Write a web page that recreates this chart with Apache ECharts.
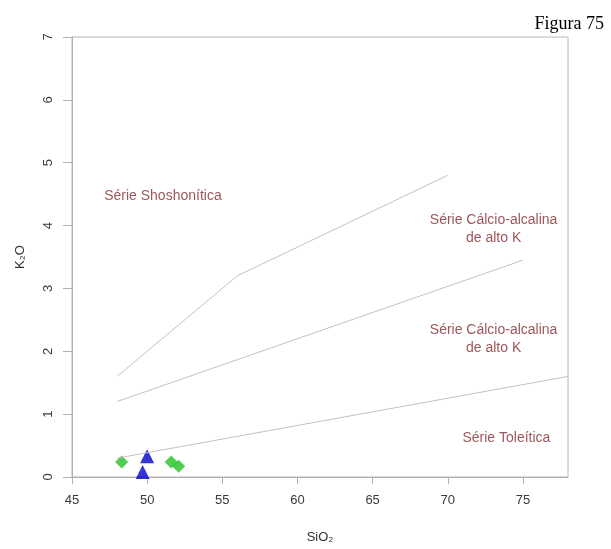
<!DOCTYPE html>
<html>
<head>
<meta charset="utf-8">
<script src="https://cdn.jsdelivr.net/npm/echarts@6/dist/echarts.min.js"></script>
<style>
  html, body { margin: 0; padding: 0; background: #fff; }
  #chart { width: 611px; height: 549px; }
</style>
</head>
<body>
<div id="chart"></div>
<script>
// eixos
var siO2Ticks = [45, 50, 55, 60, 65, 70, 75];
var k2oTicks = [0, 1, 2, 3, 4, 5, 6, 7];

// limites de Peccerillo & Taylor (SiO2, K2O)
var shoshLine = [[48, 1.6], [56, 3.2], [70, 4.8]];
var altoKLine = [[48, 1.2], [75, 3.45]];
var tholLine = [[48, 0.3], [78, 1.6]];

// amostras
var greenSamples = [[48.3, 0.24], [51.6, 0.24], [52.1, 0.17]];
var blueSamples = [[50.0, 0.33], [49.7, 0.08]];

// nomes dos campos
var fieldNames = ['Série Shoshonítica', 'Série Cálcio-alcalina\nde alto K', 'Série Cálcio-alcalina\nde alto K', 'Série Toleítica'];
var fieldSiO2 = [51.05, 73.05, 73.05, 73.9];
var fieldK2O = [4.47, 3.95, 2.19, 0.62];

var chart = echarts.init(document.getElementById('chart'));

var lineStyle = { color: '#cbbcc0', width: 1 };
var labelData = fieldNames.map(function (n, i) {
	return { name: n, value: [fieldSiO2[i], fieldK2O[i]] };
});

var option = {
	animation: false,
	title: {
		text: 'Figura 75',
		right: 2,
		top: 10,
		textStyle: { fontFamily: 'Liberation Serif', fontSize: 18, fontWeight: 'normal', color: '#000' }
	},
	grid: {
		left: 72, right: 43, top: 37, bottom: 67,
		show: true, borderColor: '#b8b8b8', borderWidth: 1
	},
	xAxis: {
		type: 'value', min: 45, max: 78, interval: 5,
		name: 'SiO₂', nameLocation: 'middle', nameGap: 54,
		nameTextStyle: { fontFamily: 'Liberation Sans', fontSize: 13, color: '#333' },
		axisLine: { lineStyle: { color: '#b0b0b0' } },
		axisTick: { length: 7, lineStyle: { color: '#b0b0b0' }, customValues: siO2Ticks },
		axisLabel: { customValues: siO2Ticks, margin: 17, fontFamily: 'Liberation Sans', fontSize: 13, color: '#3a3a3a' },
		splitLine: { show: false }
	},
	yAxis: {
		type: 'value', min: 0, max: 7, interval: 1,
		name: 'K₂O', nameLocation: 'middle', nameGap: 45,
		nameTextStyle: { fontFamily: 'Liberation Sans', fontSize: 13, color: '#333' },
		axisLine: { show: true, lineStyle: { color: '#b0b0b0' } },
		axisTick: { show: true, length: 9, lineStyle: { color: '#b0b0b0' }, customValues: k2oTicks },
		axisLabel: { customValues: k2oTicks, rotate: 90, margin: 17, fontFamily: 'Liberation Sans', fontSize: 13, color: '#3a3a3a' },
		splitLine: { show: false }
	},
	series: [
		{ type: 'line', data: shoshLine, symbol: 'none', lineStyle: lineStyle, silent: true },
		{ type: 'line', data: altoKLine, symbol: 'none', lineStyle: lineStyle, silent: true },
		{ type: 'line', data: tholLine, symbol: 'none', lineStyle: lineStyle, silent: true },
		{
			type: 'scatter', data: greenSamples, symbol: 'diamond', symbolSize: 13,
			itemStyle: { color: '#22c022' }
		},
		{
			type: 'scatter', data: blueSamples, symbol: 'triangle', symbolSize: 14,
			itemStyle: { color: '#0000cc' }
		},
		{
			type: 'scatter', data: labelData, symbolSize: 0, silent: true,
			label: {
				show: true, position: 'inside', formatter: '{b}',
				fontFamily: 'Liberation Sans', fontSize: 14, color: '#862a2e',
				align: 'center', lineHeight: 18
			}
		}
	]
};
chart.setOption(option);
</script>
</body>
</html>
